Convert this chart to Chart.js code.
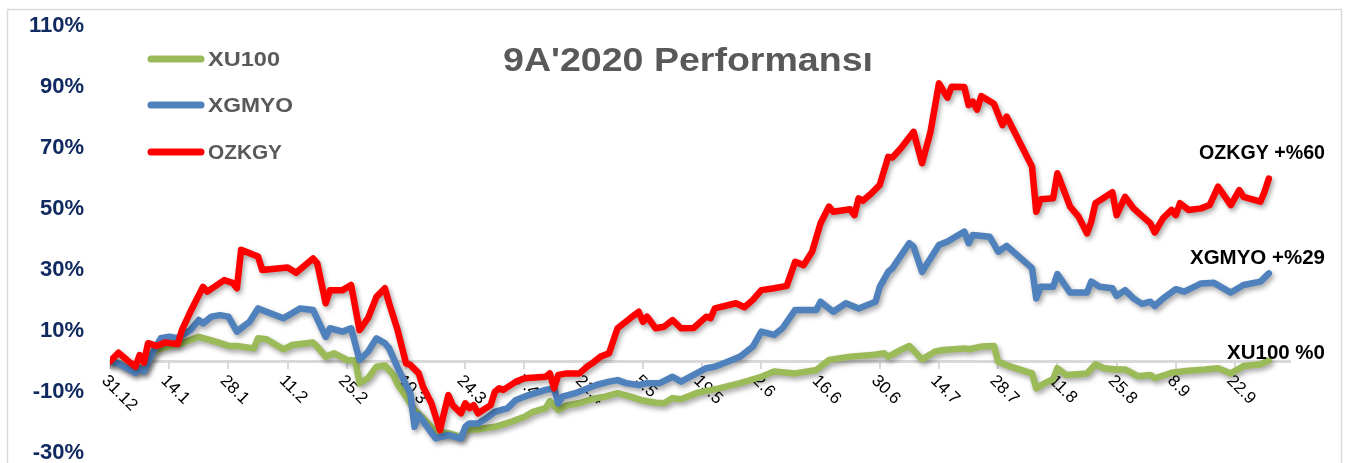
<!DOCTYPE html>
<html>
<head>
<meta charset="utf-8">
<script src="https://cdn.jsdelivr.net/npm/chart.js@4.4.1/dist/chart.umd.min.js"></script>
<style>
html,body{margin:0;padding:0;background:#fff;}
#wrap{width:1351px;height:463px;position:relative;overflow:hidden;}
</style>
</head>
<body>
<div id="wrap"><canvas id="c" width="1351" height="463"></canvas></div>
<script>
// ---- Data (x = calendar days since 31.12.2019, y = % performance) ----
const tickLabels = ['31.12','14.1','28.1','11.2','25.2','10.3','24.3','7.4','21.4','5.5','19.5','2.6','16.6','30.6','14.7','28.7','11.8','25.8','8.9','22.9'];
const tickDays = [0,14,28,42,56,70,84,98,112,126,140,154,168,182,196,210,224,238,252,266];
const yTicksPct = [-30,-10,10,30,50,70,90,110];

const seriesNames = ['XU100','XGMYO','OZKGY'];
const seriesColors = ['#9bbb59','#4f81bd','#ff0000'];
const endLabels = ['XU100 %0','XGMYO +%29','OZKGY +%60'];

const ozkgyDays = [0,2,4,6,7,8,9,11,13,16,17,19,22,23,27,29,30,31,35,36,42,44,48,49,51,52,55,57,59,61,63,65,66,68,70,71,73,74,76,78,80,81,83,84,85,86,87,90,91,92,93,96,98,103,104,105,106,108,111,113,114,116,118,120,123,125,126,127,129,131,133,135,138,141,142,143,148,150,152,154,157,160,162,164,166,168,170,171,175,176,177,178,180,182,184,185,187,190,192,194,196,198,199,202,203,204,205,206,209,211,212,218,219,220,223,224,227,229,231,232,233,237,238,240,242,246,247,249,251,252,253,255,258,260,262,265,267,268,272,273,274];
const ozkgyValues = [0,2.9,0.5,-1.7,2.1,-0.4,6.0,5.1,6.2,5.7,10.3,16.3,24.5,22.9,26.7,25.8,24,36.6,34.4,30,30.8,29.1,33.8,32.2,19.1,23.4,23.4,25.1,10.3,14.2,21.2,24,19.1,10.3,-0.6,-1.1,-3.9,-8.3,-13.7,-22.5,-11,-14.3,-17,-13.7,-15.3,-14.3,-17,-14.3,-9.9,-8.8,-9.3,-6.6,-5.5,-5,-3.9,-8.8,-4.4,-3.9,-3.9,-1.5,-0.6,1.6,2.7,10.9,14.2,16.3,13,14.7,10.9,11.4,13.6,10.9,11,14.7,14.2,17.4,19.1,17.8,20.2,23.4,24,24.8,32.7,31.6,36,45.3,50.8,49.1,49.9,48,53.5,52.7,55.1,57.9,67.1,66.9,69.9,75.3,65,75.3,91.2,86.5,90.1,90,84.1,85.2,82.6,87,84.5,77.5,80.3,63.9,49.1,53.2,53.5,61.7,50.8,47.5,42,45.8,51.9,55.5,48,54,50.2,45.3,42.3,47,49.7,48,51.9,49.7,50.2,51.3,57.3,51.3,56.2,54,52.4,55.7,60];

const xgmyoDays = [0,2,4,6,7,8,10,12,14,16,19,21,22,24,26,28,30,32,33,35,37,41,43,45,48,51,52,55,57,59,61,63,65,66,68,70,71,72,73,75,77,80,83,84,85,87,89,91,94,96,99,103,105,106,107,110,113,115,118,120,122,125,127,130,133,135,138,141,143,146,149,152,154,157,159,162,167,168,171,174,177,181,182,184,185,189,190,192,196,198,202,203,204,208,210,212,218,219,220,223,224,227,231,232,234,237,238,240,242,244,246,247,249,252,254,258,261,265,268,272,274];
const xgmyoValues = [0,-0.6,-2.2,-3.7,-2.2,-3.3,2.7,7.6,8.1,7.6,10.3,13.6,12.5,14.7,15.2,14.7,9.8,12,13,17.4,16.3,14.2,15.8,17.4,16.9,8.1,10.9,9.8,10.9,0.5,3.2,7.6,6,4.3,-2,-7.7,-10.4,-21.4,-17.5,-21.4,-25.2,-24.1,-25.2,-21.4,-20.3,-20.3,-18.6,-16.5,-15.3,-12.6,-11,-9.3,-8.8,-13.7,-11.5,-10.4,-8.8,-7.7,-6.6,-6.1,-7.1,-7.7,-7.1,-7.1,-5,-6.6,-4.4,-2.2,-1.7,-0.1,1.6,4.9,9.8,8.7,10.9,16.9,16.9,19.6,16.3,19.1,17.4,19.6,24.5,29.4,30.6,38.8,37.6,29.4,38.2,39.3,42.6,38.8,41.5,40.9,36,37.9,30.6,20.7,24.5,24.5,28.7,22.6,22.6,26.2,24.5,24,21.5,23.4,20.7,18.9,19.6,18.2,20.7,23.7,22.9,25.6,25.8,22.6,25.1,26.2,28.9];

const xu100Days = [0,2,4,6,7,8,10,11,15,17,21,25,28,30,34,35,37,41,43,48,49,51,53,56,58,59,61,63,65,67,68,70,72,73,77,80,83,84,87,91,95,98,100,103,104,106,108,111,114,117,120,123,126,129,131,133,135,139,144,149,154,157,162,167,170,175,180,183,184,187,189,192,195,197,202,203,206,209,210,213,218,219,221,223,224,226,231,233,235,238,240,243,246,247,251,255,259,262,265,268,272,274];
const xu100Values = [0,-0.5,-2,-3.3,-2,-3,2.5,3.8,5.4,6,8.1,6.5,5.1,5.1,4.3,7.6,7.3,4,5.4,6.2,4.9,1.6,2.7,0.5,0.3,-7.1,-5.5,-1.7,-1.3,-4.4,-7.5,-11.5,-15.9,-17,-23,-23.5,-24.7,-22.5,-22.2,-21.4,-19.7,-18.1,-16.5,-15.3,-13,-15.9,-14.4,-13.6,-12.3,-11.5,-10.4,-11.5,-12.8,-13.5,-13.7,-12,-12.4,-10.2,-8.8,-7.1,-5,-3.3,-3.9,-2.8,0.5,1.6,2.1,2.7,1.6,3.8,5.1,0.7,3.2,3.8,4.3,4,4.9,5.1,-0.1,-1.7,-3.9,-8.8,-7.1,-5.8,-2.2,-4.4,-3.9,-0.9,-2.2,-2.6,-2.6,-4.8,-4.4,-5.5,-3.7,-3,-2.6,-2.2,-3.9,-1.5,-0.9,0.3];

const titleText = "9A'2020 Performansı";

// ---- Build chart ----
const toPoints = (days, vals) => days.map((d, i) => ({x: d, y: vals[i]}));
const allDays = [xu100Days, xgmyoDays, ozkgyDays];
const allVals = [xu100Values, xgmyoValues, ozkgyValues];

const datasets = seriesNames.map((name, i) => ({
  label: name,
  data: toPoints(allDays[i], allVals[i]),
  borderColor: seriesColors[i],
  backgroundColor: seriesColors[i],
  borderWidth: 6.5,
  pointRadius: 0,
  pointHoverRadius: 0,
  tension: 0,
  borderJoinStyle: 'round',
  borderCapStyle: 'round',
  fill: false,
  order: 3 - i
}));

const FONT = "'Liberation Sans', Arial, sans-serif";

function fitText(ctx, text, x, y, targetW, align) {
  const w = ctx.measureText(text).width;
  const s = targetW ? targetW / w : 1;
  ctx.save();
  let ax = x;
  if (align === 'center') ax = x - (w * s) / 2;
  else if (align === 'right') ax = x - w * s;
  ctx.translate(ax, y);
  ctx.scale(s, 1);
  ctx.textAlign = 'left';
  ctx.fillText(text, 0, 0);
  ctx.restore();
}

const perfPlugin = {
  id: 'perf',
  beforeDraw(chart) {
    const ctx = chart.ctx;
    ctx.save();
    ctx.fillStyle = '#ffffff';
    ctx.fillRect(0, 0, chart.width, chart.height);
    ctx.strokeStyle = '#d9d9d9';
    ctx.lineWidth = 1.5;
    ctx.strokeRect(7.5, 9.5, chart.width - 17, chart.height + 30);
    ctx.restore();
  },
  beforeDatasetsDraw(chart) {
    const ctx = chart.ctx;
    const xs = chart.scales.x, ys = chart.scales.y;
    const axisY = ys.getPixelForValue(0);
    ctx.save();
    ctx.font = '17px ' + FONT;
    ctx.fillStyle = '#000000';
    ctx.textAlign = 'left';
    ctx.textBaseline = 'alphabetic';
    tickDays.forEach((d, i) => {
      const px = xs.getPixelForValue(d);
      ctx.save();
      ctx.translate(px - 9, axisY + 20);
      ctx.rotate(Math.PI / 4);
      ctx.fillText(tickLabels[i], 0, 0);
      ctx.restore();
    });
    ctx.restore();
  },
  beforeDatasetDraw(chart) {
    const ctx = chart.ctx;
    ctx.save();
    ctx.shadowColor = 'rgba(0,0,0,0.35)';
    ctx.shadowBlur = 5;
    ctx.shadowOffsetX = 2;
    ctx.shadowOffsetY = 3;
  },
  afterDatasetDraw(chart) {
    chart.ctx.restore();
  },
  afterDraw(chart) {
    const ctx = chart.ctx;
    ctx.save();
    // Title
    ctx.font = 'bold 34px ' + FONT;
    ctx.fillStyle = '#595959';
    ctx.textBaseline = 'middle';
    fitText(ctx, titleText, 688, 62, 370, 'center');
    // Legend
    const legY = [59, 105, 152];
    const legW = [72, 85, 74];
    seriesNames.forEach((name, i) => {
      ctx.save();
      ctx.strokeStyle = seriesColors[i];
      ctx.lineWidth = 7;
      ctx.lineCap = 'round';
      ctx.beginPath();
      ctx.moveTo(151, legY[i]);
      ctx.lineTo(201, legY[i]);
      ctx.stroke();
      ctx.restore();
      ctx.font = 'bold 21px ' + FONT;
      ctx.fillStyle = '#595959';
      ctx.textBaseline = 'middle';
      fitText(ctx, name, 208, legY[i] + 1, legW[i], 'left');
    });
    // End labels
    const endY = [353, 258, 153];
    const endW = [98, 135, 126];
    ctx.font = 'bold 20px ' + FONT;
    ctx.fillStyle = '#000000';
    ctx.textBaseline = 'middle';
    endLabels.forEach((t, i) => {
      fitText(ctx, t, 1325, endY[i], endW[i], 'right');
    });
    ctx.restore();
  }
};

new Chart(document.getElementById('c'), {
  type: 'line',
  data: { datasets },
  options: {
    responsive: false,
    animation: false,
    events: [],
    layout: { padding: { left: 0, top: 26, right: 61, bottom: 10 } },
    plugins: {
      legend: { display: false },
      tooltip: { enabled: false },
      title: { display: false }
    },
    scales: {
      x: {
        type: 'linear',
        position: { y: 0 },
        min: 0,
        max: 279,
        afterBuildTicks: (scale) => { scale.ticks = tickDays.map(v => ({ value: v })); },
        grid: { display: true, drawOnChartArea: false, drawTicks: true, tickLength: 6, color: '#d9d9d9', lineWidth: 2 },
        border: { display: true, color: '#d9d9d9', width: 3 },
        ticks: { display: false }
      },
      y: {
        type: 'linear',
        position: 'left',
        min: -30,
        max: 110,
        afterBuildTicks: (scale) => { scale.ticks = yTicksPct.map(v => ({ value: v })); },
        afterFit: (scale) => { scale.width = 110; scale.paddingTop = 8; scale.paddingBottom = 8; },
        grid: { display: false, drawTicks: false },
        border: { display: false },
        ticks: {
          padding: 26,
          color: '#102a60',
          font: { family: FONT, size: 22, weight: 'bold' },
          callback: (v) => v + '%'
        }
      }
    }
  },
  plugins: [perfPlugin]
});
</script>
</body>
</html>
